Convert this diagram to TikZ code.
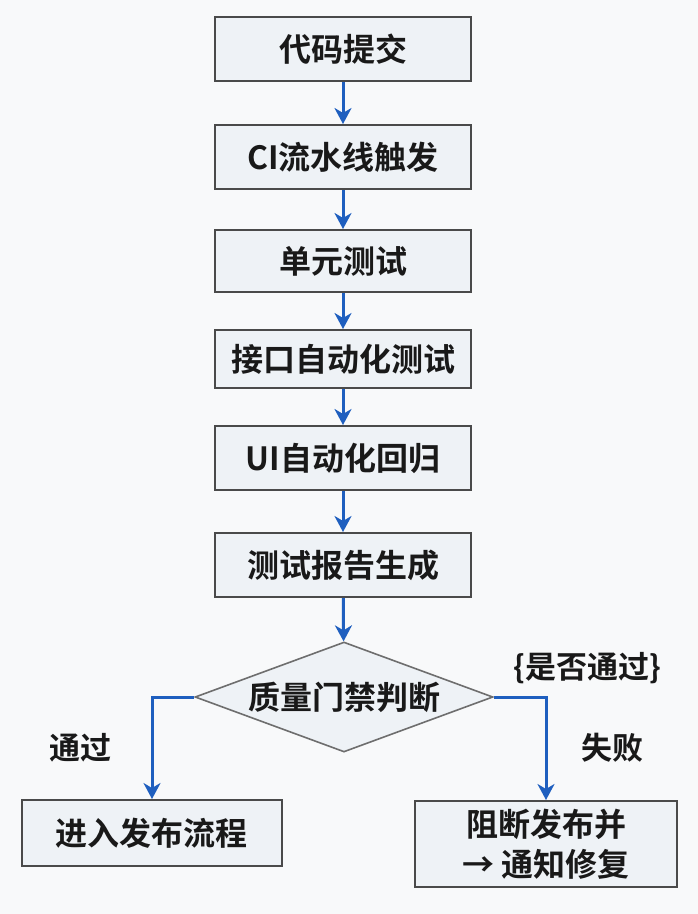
\documentclass[tikz,border=0pt]{standalone}
\usepackage{fontspec}
\setmainfont{Noto Sans CJK SC}[BoldFont={* Bold}]
\newfontfamily\cjkb{Noto Sans CJK SC Bold}
\usetikzlibrary{arrows.meta,shapes.geometric}
\definecolor{bgc}{HTML}{F8F9FA}
\definecolor{boxfill}{HTML}{EEF2F6}
\definecolor{boxline}{HTML}{4A4A4A}
\definecolor{arrowc}{HTML}{1F5FBF}
\tikzset{
  stepbox/.style={draw=boxline, line width=2pt, fill=boxfill, minimum width=256pt, inner sep=0pt, font=\cjkb\fontsize{32}{38}\selectfont, text=black!90},
  decision/.style={diamond, draw=boxline!80, line width=1.6pt, fill=boxfill, minimum width=298pt, minimum height=110pt, aspect=2.7, inner sep=0pt, font=\cjkb\fontsize{32}{38}\selectfont, text=black!90},
  flow/.style={draw=arrowc, line width=3pt, -{Stealth[length=16pt,width=17pt,inset=5pt]}},
  lbl/.style={font=\cjkb\fontsize{31}{36}\selectfont, text=black!90, inner sep=0pt}
}
\begin{document}
\begin{tikzpicture}[x=1pt,y=-1pt]
\fill[bgc] (0,0) rectangle (698,914);
\useasboundingbox (0,0) rectangle (698,914);
\node[stepbox, minimum height=64pt] (b1) at (343,49) {代码提交};
\node[stepbox, minimum height=64pt] (b2) at (343,157) {CI流水线触发};
\node[stepbox, minimum height=62pt] (b3) at (343,261) {单元测试};
\node[stepbox, minimum height=58pt] (b4) at (343,359) {接口自动化测试};
\node[stepbox, minimum height=64pt] (b5) at (343,458) {UI自动化回归};
\node[stepbox, minimum height=64pt] (b6) at (343,565) {测试报告生成};
\node[decision] (d) at (344,697) {质量门禁判断};
\node[stepbox, minimum width=260pt, minimum height=66pt] (pass) at (152,833) {进入发布流程};
\node[stepbox, minimum width=262pt, minimum height=86pt, align=center, font=\cjkb\fontsize{32}{40}\selectfont] (fail) at (546,844) {阻断发布并\\→ 通知修复};
\draw[flow] (b1) -- (b2);
\draw[flow] (b2) -- (b3);
\draw[flow] (b3) -- (b4);
\draw[flow] (b4) -- (b5);
\draw[flow] (b5) -- (b6);
\draw[flow] (b6) -- (d);
\draw[flow] (d.west) -| (pass.north);
\draw[flow] (d.east) -| (fail.north);
\node[lbl] (lp) at (80,748) {通过};
\node[lbl] (lf) at (612,748) {失败};
\node[lbl] (lq) at (587,668) {\{是否通过\}};
\end{tikzpicture}
\end{document}
